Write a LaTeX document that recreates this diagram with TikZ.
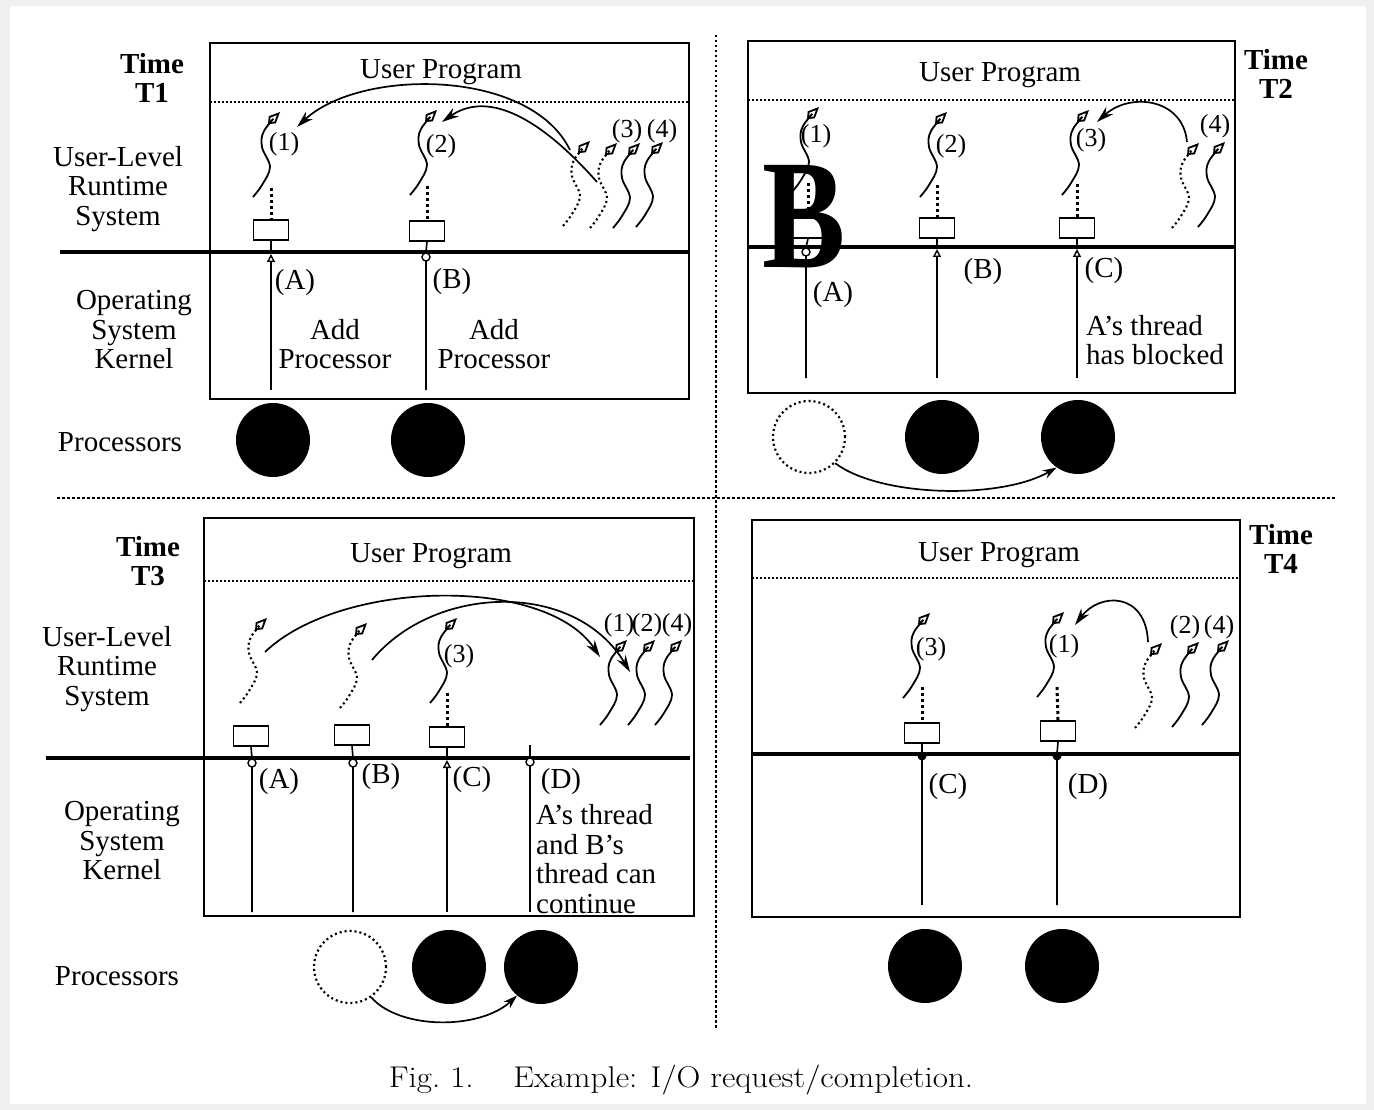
\documentclass[tikz,border=0pt]{standalone}
\usepackage{fontspec}
\setmainfont{Liberation Serif}
\newfontfamily\capfont{Latin Modern Roman}
\usetikzlibrary{arrows.meta}
\newcommand\thr[3][]{\draw[thrline,#1] plot[smooth,tension=0.6] coordinates {(#2,#3) (#2+9,#3-12) (#2+17,#3-30) (#2+9,#3-50) (#2+11,#3-66) (#2+27,#3-85)};}
\begin{document}
\begin{tikzpicture}[x=1pt,y=-1pt,
  frame/.style={line width=1.9pt},
  kline/.style={line width=3.4pt},
  sepline/.style={line width=1.3pt,dash pattern=on 2pt off 2pt},
  qsep/.style={line width=1.6pt,dash pattern=on 2.5pt off 2.5pt},
  kthread/.style={line width=1.6pt},
  thrline/.style={line width=1.8pt,-{Kite[open,length=17pt,width=10pt,inset=6pt,line width=1.8pt]}},
  dsq/.style={dash pattern=on 2pt off 3pt,line width=2.1pt},
  dlink/.style={line width=3pt,dash pattern=on 3pt off 3pt},
  kbox/.style={draw,line width=1.8pt,minimum width=35pt,minimum height=20pt,inner sep=0pt,fill=white},
  proc/.style={circle,fill=black,minimum size=74pt,inner sep=0pt},
  oldproc/.style={circle,draw,dash pattern=on 2pt off 3pt,line width=2.2pt,minimum size=72pt,inner sep=0pt},
  arc/.style={line width=1.7pt,-{Stealth[length=17pt,width=10pt]}},
  parc/.style={line width=1.7pt,-{Stealth[length=14pt,width=9pt]}},
  tri/.style={-{Triangle[open,length=8pt,width=8pt,line width=1.4pt]}},
  lbl/.style={font=\fontsize{29}{29.5}\selectfont,align=center,inner sep=0pt},
  slbl/.style={font=\fontsize{26}{28}\selectfont,inner sep=0pt},
  tlbl/.style={font=\fontsize{29}{29}\selectfont\bfseries,align=center,inner sep=0pt},
  ring/.style={circle,draw,line width=1.4pt,minimum size=8pt,inner sep=0pt,fill=white},
  dot/.style={circle,fill=black,minimum size=9pt,inner sep=0pt}
]
% background
\fill[black!6] (0,0) rectangle (1374,1110);
\fill[white] (10,6) rectangle (1366,1104);
\useasboundingbox (0,0) rectangle (1374,1110);

% quadrant separators
\draw[qsep] (57,498) -- (1335,498);
\draw[qsep] (716,35) -- (716,1030);

%================ T1 ================
\node[tlbl] (time1) at (152,78) {Time\\T1};
\draw[frame] (210,43) rectangle (689,399);
\draw[sepline] (210,102) -- (689,102);
\node[lbl] (up1) at (441,72) {User Program};
\node[lbl] (ulr1) at (118,189) {User-Level\\Runtime\\System};
\node[lbl] (osk1) at (134,330) {Operating\\System\\Kernel};
\node[lbl] (pr1) at (120,442) {Processors};
\draw[kline] (60,252) -- (689,252);
% thread A
\thr{253}{197}
\node[slbl] (l11) at (284,144) {(1)};
\node[kbox] (k1a) at (271,230) {};
\draw[dlink] (271,188) -- (k1a.north);
\draw[kthread,tri] (271,390) -- (271,254);
\draw[kthread] (271,252) -- (k1a.south);
% thread B
\thr{410}{195}
\node[slbl] (l12) at (441,146) {(2)};
\node[kbox] (k1b) at (427,231) {};
\draw[dlink] (427,186) -- (k1b.north);
\draw[kthread] (426,390) -- (426,252) -- (k1b.south);
\node[ring] at (426,257) {};
% ready threads
\thr[dsq]{563}{226}
\thr[dsq]{590}{228}
\thr{613}{228}
\thr{636}{227}
\node[slbl] (l13) at (627,131) {(3)};
\node[slbl] (l14) at (662,131) {(4)};
\coordinate (s11) at (570,150);
\coordinate (e11) at (297,127);
\coordinate (s12) at (597,182);
\coordinate (e12) at (442,122);
\draw[arc] (s11) .. controls (530,68) and (360,68) .. (e11);
\draw[arc] (s12) .. controls (535,112) and (485,92) .. (e12);
\node[lbl] (a1) at (295,283) {(A)};
\node[lbl] (b1) at (452,282) {(B)};
\node[lbl] (ap1) at (335,344) {Add\\Processor};
\node[lbl] (ap2) at (494,344) {Add\\Processor};
\node[proc] (p1a) at (273,440) {};
\node[proc] (p1b) at (428,440) {};

%================ T2 ================
\node[tlbl] (time2) at (1276,74) {Time\\T2};
\draw[frame] (748,41) rectangle (1235,393);
\draw[sepline] (748,100) -- (1235,100);
\node[lbl] (up2) at (1000,75) {User Program};
\draw[kline] (748,247) -- (1235,247);
% thread A (blocked)
\thr{792}{192}
\node[slbl] (l21) at (816,136) {(1)};
\node[kbox] (k2a) at (808,228) {};
\draw[dlink] (808,183) -- (k2a.north);
\draw[kthread] (806,378) -- (806,247) -- (k2a.south);
\node[ring] at (806,252) {};
\node[font=\fontsize{156}{156}\selectfont\bfseries,xscale=0.8,transform shape,anchor=base,inner sep=0pt] (bigB) at (804,268) {B};
% thread B
\thr{920}{197}
\node[slbl] (l22) at (951,146) {(2)};
\node[kbox] (k2b) at (937,228) {};
\draw[dlink] (937,185) -- (k2b.north);
\draw[kthread,tri] (937,378) -- (937,249);
\draw[kthread] (937,247) -- (k2b.south);
% thread C
\thr{1062}{195}
\node[slbl] (l23) at (1091,140) {(3)};
\node[kbox] (k2c) at (1077,228) {};
\draw[dlink] (1077,184) -- (k2c.north);
\draw[kthread,tri] (1077,378) -- (1077,249);
\draw[kthread] (1077,247) -- (k2c.south);
% ready threads
\thr[dsq]{1172}{228}
\thr{1198}{227}
\node[slbl] (l24) at (1215,126) {(4)};
\coordinate (s21) at (1187,142);
\coordinate (e21) at (1097,122);
\draw[arc] (s21) .. controls (1183,98) and (1130,92) .. (e21);
\node[lbl] (a2) at (833,295) {(A)};
\node[lbl] (b2) at (983,272) {(B)};
\node[lbl] (c2) at (1104,271) {(C)};
\node[lbl,align=left,anchor=west] (blk) at (1086,340) {A’s thread\\has blocked};
\node[oldproc] (p2a) at (809,437) {};
\node[proc] (p2b) at (942,437) {};
\node[proc] (p2c) at (1078,437) {};
\draw[parc] (p2a.-45) .. controls (880,497) and (1000,500) .. (p2c.-125);

%================ T3 ================
\node[tlbl] (time3) at (148,561) {Time\\T3};
\draw[frame] (204,518) rectangle (694,916);
\draw[sepline] (204,581) -- (694,581);
\node[lbl] (up3) at (431,556) {User Program};
\node[lbl] (ulr3) at (107,669) {User-Level\\Runtime\\System};
\node[lbl] (osk3) at (122,841) {Operating\\System\\Kernel};
\node[lbl] (pr3) at (117,976) {Processors};
\draw[kline] (46,758) -- (690,758);
% A
\thr[dsq]{240}{703}
\node[kbox] (k3a) at (251,736) {};
\draw[kthread] (252,912) -- (252,758) -- (k3a.south);
\node[ring] at (252,763) {};
% B
\thr[dsq]{340}{708}
\node[kbox] (k3b) at (352,735) {};
\draw[kthread] (353,912) -- (353,758) -- (k3b.south);
\node[ring] at (353,763) {};
% C
\thr{430}{703}
\node[slbl] (l33) at (459,656) {(3)};
\node[kbox] (k3c) at (447,737) {};
\draw[dlink] (447,693) -- (k3c.north);
\draw[kthread,tri] (447,912) -- (447,760);
\draw[kthread] (447,758) -- (k3c.south);
% D
\draw[kthread] (530,912) -- (530,745);
\node[ring] (d3) at (530,762) {};
% ready
\thr{600}{725}
\thr{628}{725}
\thr{655}{725}
\node[slbl] (l31) at (619,625) {(1)};
\node[slbl] (l32) at (647,625) {(2)};
\node[slbl] (l34) at (677,625) {(4)};
\coordinate (s31) at (265,652);
\coordinate (e31) at (600,657);
\coordinate (s32) at (372,660);
\coordinate (e32) at (630,672);
\draw[arc] (s31) .. controls (340,580) and (545,575) .. (e31);
\draw[arc] (s32) .. controls (435,584) and (575,580) .. (e32);
\node[lbl] (a3) at (279,782) {(A)};
\node[lbl] (b3) at (381,777) {(B)};
\node[lbl] (c3) at (472,780) {(C)};
\node[lbl] (dd3) at (561,782) {(D)};
\node[lbl,align=left,anchor=west] (cont) at (536,859) {A’s thread\\and B’s\\thread can\\continue};
\node[oldproc] (p3a) at (350,967) {};
\node[proc] (p3b) at (449,967) {};
\node[proc] (p3c) at (541,967) {};
\draw[parc] (p3a.-55) .. controls (400,1030) and (480,1030) .. (p3c.-130);

%================ T4 ================
\node[tlbl] (time4) at (1281,549) {Time\\T4};
\draw[frame] (752,520) rectangle (1240,917);
\draw[sepline] (752,578) -- (1240,578);
\node[lbl] (up4) at (999,555) {User Program};
\draw[kline] (752,754) -- (1240,754);
% C
\thr{903}{698}
\node[slbl] (l43) at (931,649) {(3)};
\node[kbox] (k4c) at (922,733) {};
\draw[dlink] (922,687) -- (k4c.north);
\draw[kthread] (922,905) -- (922,754) -- (k4c.south);
\node[dot] at (922,756) {};
% D
\thr{1037}{697}
\node[slbl] (l41) at (1064,646) {(1)};
\node[kbox] (k4d) at (1058,731) {};
\draw[dlink] (1057,687) -- (k4d.north);
\draw[kthread] (1057,905) -- (1057,754) -- (k4d.south);
\node[dot] at (1057,756) {};
% ready
\thr[dsq]{1135}{728}
\thr{1172}{727}
\thr{1202}{725}
\node[slbl] (l42) at (1185,627) {(2)};
\node[slbl] (l44) at (1219,627) {(4)};
\coordinate (s41) at (1148,642);
\coordinate (e41) at (1075,625);
\draw[arc] (s41) .. controls (1146,592) and (1100,592) .. (e41);
\node[lbl] (c4) at (948,787) {(C)};
\node[lbl] (d4) at (1088,787) {(D)};
\node[proc] (p4a) at (925,966) {};
\node[proc] (p4b) at (1062,966) {};

% caption
\node[font=\capfont\fontsize{30}{32}\selectfont,xscale=1.1,transform shape,inner sep=0pt] (cap) at (681,1080) {Fig.\ 1.\hspace{1.2em}Example: I/O request/completion.};
\end{tikzpicture}
\end{document}
